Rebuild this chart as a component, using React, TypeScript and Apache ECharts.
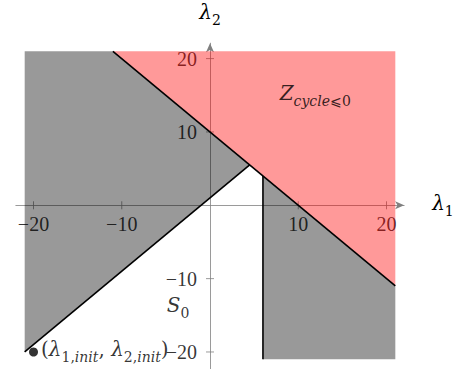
import React, { useEffect, useRef } from 'react';
import * as echarts from 'echarts';

// ---- data (axis units) ----
const xTickValues = [-20, -10, 10, 20];
const yTickValues = [-20, -10, 10, 20];
const redRegion = [[-11, 21], [21, 21], [21, -11]];
const grayLeftRegion = [[-21, -20], [-21, 21], [-11, 21], [4.5, 5.5]];
const grayRightRegion = [[6, 4], [21, -11], [21, -21], [6, -21]];
const diagonalLine = [[-21, -20], [4.5, 5.5]];
const boundaryLine = [[-11, 21], [21, -11]];
const verticalLine = [[6, 4], [6, -21]];
const initPoint = [[-20, -20]];
const zLabelPos = [7.9, 15];
const s0LabelPos = [-4.9, -13.9];

const SERIF = "'Liberation Serif', 'DejaVu Serif', serif";
const MATH = "'DejaVu Serif', 'Liberation Serif', serif";
const TICK_COLOR = '#808080';

const polygonSeries = (name: string, pts: number[][], color: string) => ({
  type: 'custom',
  name,
  data: pts,
  z: 2,
  silent: true,
  renderItem: (params: any, api: any) => {
    if (params.dataIndex !== 0) return null;
    return {
      type: 'polygon',
      shape: { points: pts.map((p) => api.coord(p)) },
      style: { fill: color, stroke: 'none' },
    };
  },
});

const lineSeries = (name: string, pts: number[][]) => ({
  type: 'line',
  name,
  data: pts,
  z: 3,
  silent: true,
  showSymbol: false,
  symbol: 'none',
  lineStyle: { color: '#000', width: 1.6 },
});

// tick marks crossing the axis (both sides), drawn through the axis scale
const tickSeries = (name: string, pts: number[][], vertical: boolean) => ({
  type: 'custom',
  name,
  data: pts,
  z: 1,
  silent: true,
  renderItem: (params: any, api: any) => {
    const c = api.coord([api.value(0), api.value(1)]);
    return {
      type: 'line',
      shape: vertical
        ? { x1: c[0], y1: c[1] - 4, x2: c[0], y2: c[1] + 4 }
        : { x1: c[0] - 4, y1: c[1], x2: c[0] + 4, y2: c[1] },
      style: { stroke: TICK_COLOR, lineWidth: 0.8 },
    };
  },
});

const fmt = (v: number) => String(v).replace('-', '\u2212');

const tickLabelSeries = (name: string, pts: number[][], vals: number[], position: string, distance: number) => ({
  type: 'scatter',
  name,
  z: 1,
  silent: true,
  symbolSize: 0,
  data: pts.map((p, i) => ({ value: p, label: { formatter: fmt(vals[i]) } })),
  label: { show: true, position, distance, fontFamily: SERIF, fontSize: 20, color: '#000' },
});

const mathRich = {
  m: { fontFamily: MATH, fontStyle: 'italic', fontSize: 20, color: '#000', verticalAlign: 'bottom', padding: [0, 0, 5, 0] },
  r: { fontFamily: MATH, fontSize: 20, color: '#000', verticalAlign: 'bottom', padding: [0, 0, 5, 0] },
  s: { fontFamily: MATH, fontSize: 14, color: '#000', verticalAlign: 'bottom' },
  si: { fontFamily: MATH, fontStyle: 'italic', fontSize: 14, color: '#000', verticalAlign: 'bottom' },
};

export default function App() {
  const ref = useRef<HTMLDivElement>(null);
  useEffect(() => {
    if (!ref.current) return;
    const chart = echarts.init(ref.current, undefined, { renderer: 'svg' });
    const axisLineStyle = { color: TICK_COLOR, width: 0.8 };
    chart.setOption({
      animation: false,
      grid: { left: 15.85, width: 388.3, top: 43.2, height: 325.8, containLabel: false, outerBoundsMode: 'none' },
      xAxis: {
        type: 'value',
        min: -22,
        max: 22,
        axisLine: { onZero: true, lineStyle: axisLineStyle, symbol: ['none', 'arrow'], symbolSize: [6, 9] },
        axisTick: { show: false },
        axisLabel: { show: false },
        splitLine: { show: false },
        name: '{m|λ}{s|1}',
        nameLocation: 'end',
        nameGap: 28,
        nameTextStyle: { rich: mathRich, align: 'left', verticalAlign: 'middle' },
      },
      yAxis: {
        type: 'value',
        min: -22.32,
        max: 22.1,
        axisLine: { onZero: true, lineStyle: axisLineStyle, symbol: ['none', 'arrow'], symbolSize: [6, 9] },
        axisTick: { show: false },
        axisLabel: { show: false },
        splitLine: { show: false },
        name: '{m|λ}{s|2}',
        nameLocation: 'end',
        nameGap: 16,
        nameTextStyle: { rich: mathRich, align: 'center' },
      },
      series: [
        tickSeries('x-ticks', xTickValues.map((v) => [v, 0]), true),
        tickSeries('y-ticks', yTickValues.map((v) => [0, v]), false),
        tickLabelSeries('x-tick-labels', xTickValues.map((v) => [v, 0]), xTickValues, 'bottom', 9),
        tickLabelSeries('y-tick-labels', yTickValues.map((v) => [0, v]), yTickValues, 'left', 13),
        polygonSeries('gray-left', grayLeftRegion, 'rgba(0,0,0,0.4)'),
        polygonSeries('gray-right', grayRightRegion, 'rgba(0,0,0,0.4)'),
        polygonSeries('red', redRegion, 'rgba(255,0,0,0.4)'),
        lineSeries('diagonal', diagonalLine),
        lineSeries('boundary', boundaryLine),
        lineSeries('vertical', verticalLine),
        {
          type: 'scatter',
          name: 'init',
          data: initPoint,
          z: 4,
          symbolSize: 9,
          itemStyle: { color: '#000' },
          label: {
            show: true,
            position: 'right',
            distance: 3,
            formatter: '{r|(}{m|λ}{s|1,}{si|init}{r|, }{m|λ}{s|2,}{si|init}{r|)}',
            rich: mathRich,
          },
        },
        {
          type: 'scatter',
          name: 'labels',
          z: 5,
          symbolSize: 0,
          data: [
            { value: zLabelPos, label: { formatter: '{m|Z}{si|cycle}{s|⩽0}' } },
            { value: s0LabelPos, label: { formatter: '{m|S}{s|0}' } },
          ],
          label: { show: true, position: 'right', distance: 0, rich: mathRich },
        },
      ],
    });
    return () => chart.dispose();
  }, []);
  return <div ref={ref} style={{ position: 'absolute', left: 0, top: 0, width: 460, height: 369 }} />;
}
